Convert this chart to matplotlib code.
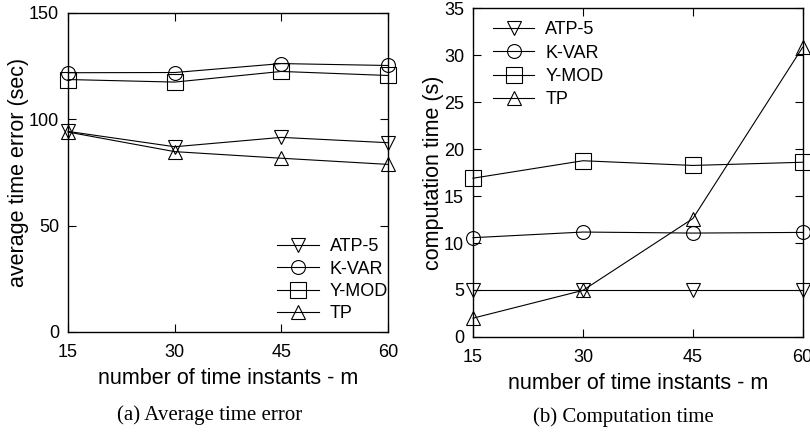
import matplotlib
matplotlib.use("Agg")
import matplotlib.pyplot as plt

plt.rcParams['font.family'] = ['Liberation Sans', 'DejaVu Sans']

m_values = [15, 30, 45, 60]
series_names = ["ATP-5", "K-VAR", "Y-MOD", "TP"]

# (a) average time error (sec)
err_atp5 = [94.3, 87.1, 91.5, 89.0]
err_kvar = [121.9, 122.0, 126.2, 125.3]
err_ymod = [118.7, 117.5, 122.5, 120.6]
err_tp = [94.0, 84.8, 81.7, 78.8]

# (b) computation time (s)
time_atp5 = [5.0, 5.0, 5.0, 5.0]
time_kvar = [10.57, 11.17, 11.06, 11.13]
time_ymod = [16.9, 18.76, 18.26, 18.6]
time_tp = [2.0, 4.96, 12.6, 30.85]

markers = ['v', 'o', 's', '^']
msizes = [10, 10, 11, 10]


def draw(ax, data):
    for vals, name, mk, ms in zip(data, series_names, markers, msizes):
        ax.plot(m_values, vals, color='black', lw=0.8, marker=mk, ms=ms,
                mfc='none', mec='black', mew=0.8, label=name, clip_on=False)
    ax.set_xlim(15, 60)
    ax.set_xticks(m_values)
    ax.tick_params(direction='in', top=True, right=True, length=6,
                   labelsize=13, width=0.8)
    ax.tick_params(axis='x', pad=9)
    ax.tick_params(axis='y', pad=6.5)
    ax.set_xlabel("number of time instants - m", fontsize=15.5, labelpad=5)
    for s in ax.spines.values():
        s.set_linewidth(1.0)


fig = plt.figure(figsize=(8.1, 4.32), dpi=100)

ax1 = fig.add_axes([0.084, 0.2315, 0.395, 0.7385])
draw(ax1, [err_atp5, err_kvar, err_ymod, err_tp])
ax1.set_ylim(0, 150)
ax1.set_yticks([0, 50, 100, 150])
ax1.set_ylabel("average time error (sec)", fontsize=15.5, labelpad=0)
ax1.legend(loc='lower right', bbox_to_anchor=(1.0, 0.03), frameon=False,
           fontsize=13, handlelength=2.3, handletextpad=0.6,
           labelspacing=0.3, borderaxespad=0, borderpad=0)

ax2 = fig.add_axes([0.584, 0.22, 0.407, 0.761])
draw(ax2, [time_atp5, time_kvar, time_ymod, time_tp])
ax2.set_ylim(0, 35)
ax2.set_yticks(range(0, 36, 5))
ax2.set_ylabel("computation time (s)", fontsize=15.5, labelpad=0)
ax2.legend(loc='upper left', bbox_to_anchor=(0.06, 0.96), frameon=False,
           fontsize=13, handlelength=2.3, handletextpad=0.6,
           labelspacing=0.35, borderaxespad=0, borderpad=0)

fig.text(0.259, 0.039, "(a) Average time error", fontsize=15,
         family='Liberation Serif', ha='center', va='center')
fig.text(0.769, 0.035, "(b) Computation time", fontsize=15,
         family='Liberation Serif', ha='center', va='center')

fig.savefig("out.png", dpi=100)
